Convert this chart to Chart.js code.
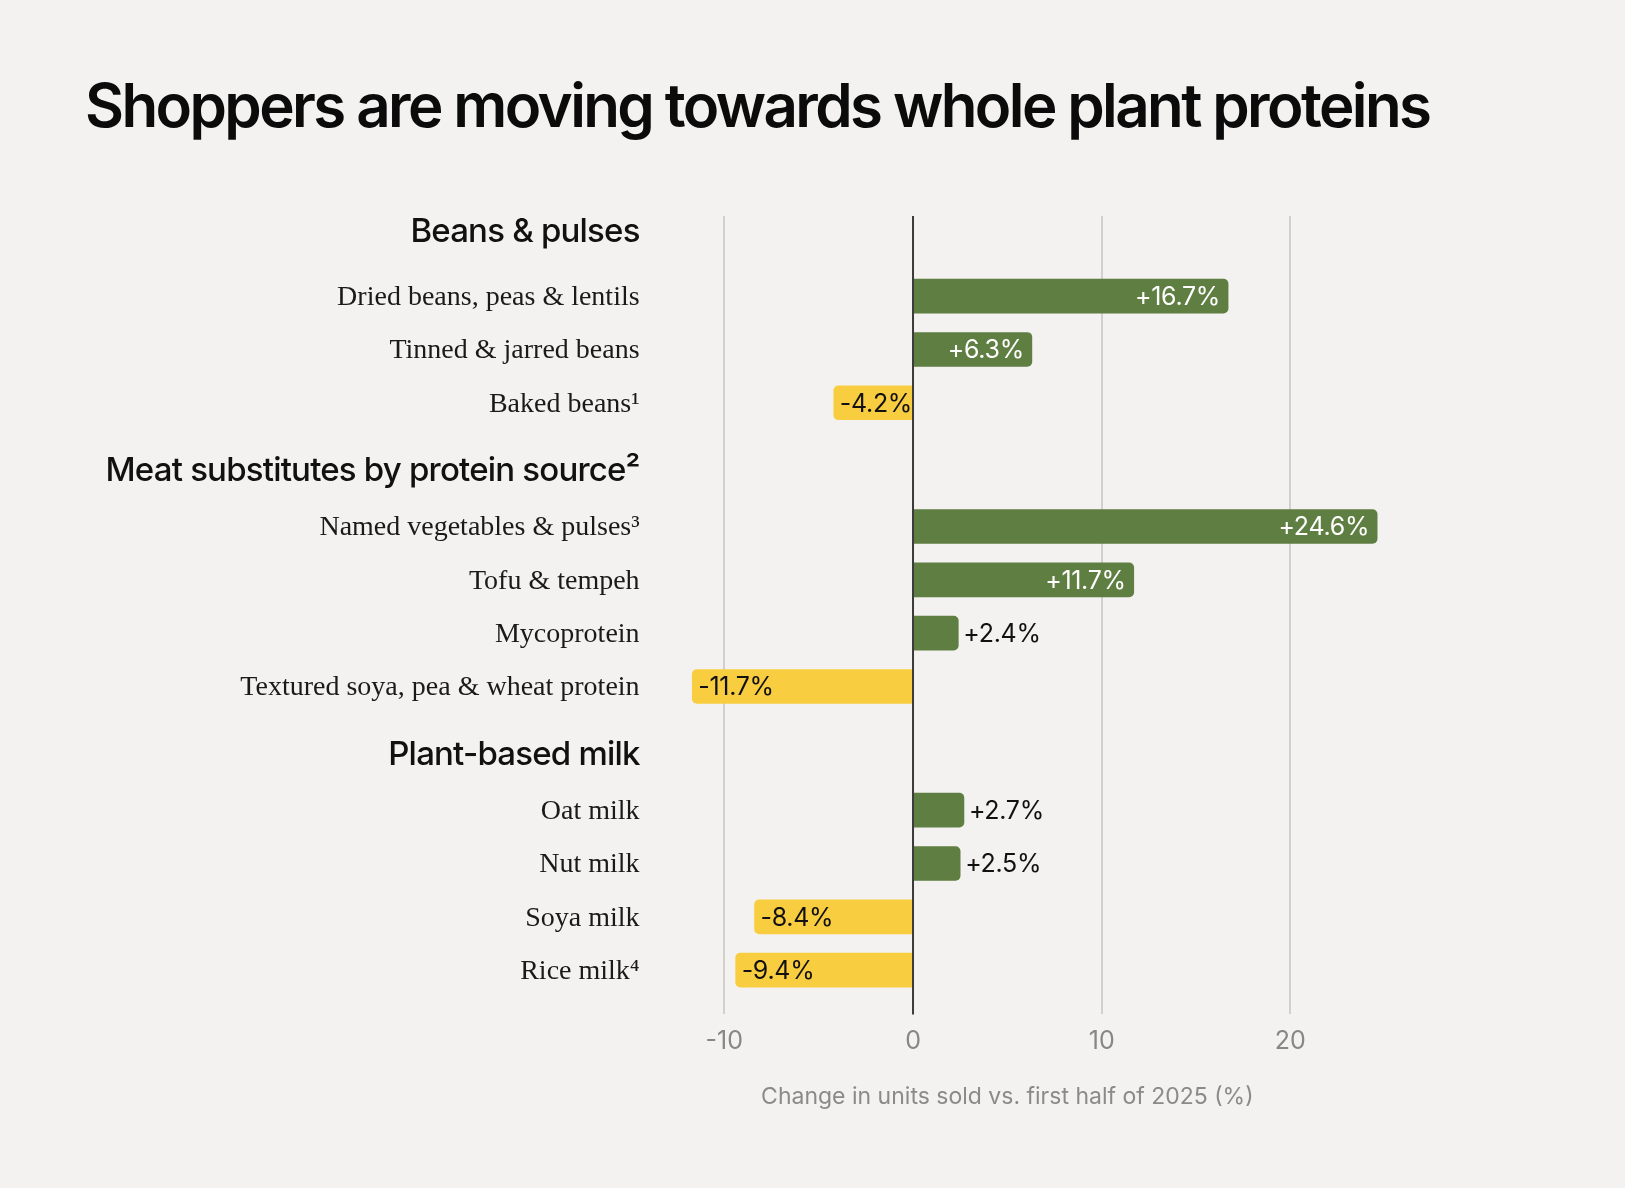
<!DOCTYPE html>
<html>
<head>
<meta charset="utf-8">
<script src="https://cdn.jsdelivr.net/npm/chart.js@4.4.1/dist/chart.umd.min.js"></script>
<style>
  html, body { margin: 0; padding: 0; background: #f3f2f0; }
  #wrap { position: relative; width: 1625px; height: 1188px; overflow: hidden; }
  #title {
    position: absolute; left: 85px; top: 75px; margin: 0;
    font: 600 60px Inter, "Noto Sans", sans-serif; line-height: 60px;
    color: #0b0b0b; white-space: nowrap; display: inline-block;
  }
  #box { position: absolute; left: 0; top: 0; width: 1625px; height: 1188px; }
</style>
</head>
<body>
<div id="wrap">
  <h1 id="title">Shoppers are moving towards whole plant proteins</h1>
  <div id="box"><canvas id="shopChart"></canvas></div>
</div>
<script>
const groupNames = ['Beans & pulses', 'Meat substitutes by protein source²', 'Plant-based milk'];
const categories = [
  'Dried beans, peas & lentils', 'Tinned & jarred beans', 'Baked beans¹',
  'Named vegetables & pulses³', 'Tofu & tempeh', 'Mycoprotein', 'Textured soya, pea & wheat protein',
  'Oat milk', 'Nut milk', 'Soya milk', 'Rice milk⁴'
];
const categoryGroup = [0, 0, 0, 1, 1, 1, 1, 2, 2, 2, 2];
const changes = [16.7, 6.3, -4.2, 24.6, 11.7, 2.4, -11.7, 2.7, 2.5, -8.4, -9.4];
const tickValues = [-10, 0, 10, 20];

const GREEN = '#5f7e41';
const YELLOW = '#f9cd40';

// title: squeeze tracking to the reference width
const title = document.getElementById('title');
const natural = title.getBoundingClientRect().width;
title.style.letterSpacing = ((1347 - natural) / (title.textContent.length - 1)) + 'px';

// row slots: headers take a bit more room than plain rows
const rowPos = [];
const headerPos = [];
let pos = 0;
categories.forEach((c, i) => {
  const g = categoryGroup[i];
  if (i === 0 || g !== categoryGroup[i - 1]) {
    if (i > 0) pos += 1.25;
    headerPos[g] = pos;
    pos += (i === 0 ? 1.24 : 1.07);
  } else {
    pos += 1;
  }
  rowPos.push(pos);
});

const fmt = v => (v > 0 ? '+' : '') + v.toFixed(1) + '%';

const labelPlugin = {
  id: 'labels',
  afterDatasetsDraw(chart) {
    const { ctx, chartArea, scales: { x, y } } = chart;
    const labelRight = chartArea.left - 47;
    ctx.save();

    // zero line on top of bars
    ctx.strokeStyle = '#3b3b3b';
    ctx.lineWidth = 2;
    ctx.beginPath();
    ctx.moveTo(x.getPixelForValue(0), chartArea.top);
    ctx.lineTo(x.getPixelForValue(0), chartArea.bottom);
    ctx.stroke();

    // group headers
    ctx.textAlign = 'right';
    ctx.textBaseline = 'alphabetic';
    ctx.fillStyle = '#111';
    ctx.font = '500 33px Inter, sans-serif';
    ctx.letterSpacing = '-0.8px';
    groupNames.forEach((g, i) => {
      ctx.fillText(g, labelRight, y.getPixelForValue(headerPos[i]) + 12);
    });

    // category labels
    ctx.font = '28px "Liberation Serif", serif';
    ctx.letterSpacing = '0px';
    ctx.fillStyle = '#1a1a1a';
    categories.forEach((c, i) => {
      ctx.fillText(c, labelRight, y.getPixelForValue(rowPos[i]) + 9);
    });

    // value labels
    ctx.font = '25px Inter, sans-serif';
    ctx.letterSpacing = '-0.3px';
    const meta = chart.getDatasetMeta(0);
    meta.data.forEach((bar, i) => {
      const v = changes[i];
      const txt = fmt(v);
      const w = ctx.measureText(txt).width;
      const barW = Math.abs(bar.x - bar.base);
      const yy = bar.y + 9;
      if (v < 0) {
        ctx.textAlign = 'left';
        ctx.fillStyle = '#111';
        ctx.fillText(txt, bar.x + 6, yy);
      } else if (w + 16 <= barW) {
        ctx.textAlign = 'right';
        ctx.fillStyle = '#fff';
        ctx.fillText(txt, bar.x - 8, yy);
      } else {
        ctx.textAlign = 'left';
        ctx.fillStyle = '#111';
        ctx.fillText(txt, bar.x + 5, yy);
      }
    });
    ctx.restore();
  }
};

new Chart(document.getElementById('shopChart'), {
  type: 'bar',
  data: {
    datasets: [{
      data: changes.map((v, i) => ({ x: v, y: rowPos[i] })),
      backgroundColor: changes.map(v => v >= 0 ? GREEN : YELLOW),
      borderRadius: 5,
      borderSkipped: 'start',
      barThickness: 34,
      clip: false
    }]
  },
  options: {
    indexAxis: 'y',
    responsive: true,
    maintainAspectRatio: false,
    animation: false,
    layout: { padding: { top: 216, left: 686.6, right: 296.9, bottom: 77 } },
    plugins: {
      legend: { display: false },
      tooltip: {
        callbacks: {
          title: items => categories[items[0].dataIndex],
          label: item => fmt(item.raw.x)
        }
      }
    },
    scales: {
      x: {
        type: 'linear',
        min: -12,
        max: 22,
        afterBuildTicks: scale => { scale.ticks = tickValues.map(v => ({ value: v })); },
        grid: {
          drawTicks: false,
          lineWidth: 2,
          color: c => c.tick && c.tick.value === 0 ? 'rgba(0,0,0,0)' : '#d2d0cd'
        },
        border: { display: false },
        ticks: {
          padding: 12,
          color: '#878787',
          font: { family: 'Inter', size: 25 }
        },
        title: {
          display: true,
          text: 'Change in units sold vs. first half of 2025 (%)',
          color: '#8a8a8a',
          font: { family: 'Inter', size: 23 },
          padding: { top: 15, bottom: 0 }
        }
      },
      y: {
        type: 'linear',
        display: false,
        reverse: true,
        offset: false,
        grid: { offset: false },
        min: -0.263,
        max: rowPos[rowPos.length - 1] + 0.83
      }
    }
  },
  plugins: [labelPlugin]
});
</script>
</body>
</html>
